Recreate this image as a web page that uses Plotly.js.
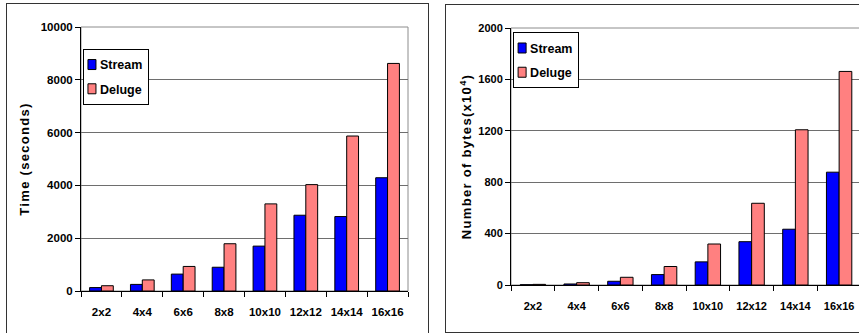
<!DOCTYPE html>
<html>
<head>
<meta charset="utf-8">
<script src="https://cdn.plot.ly/plotly-3.0.1.min.js"></script>
<style>
  html, body { margin:0; padding:0; background:#fff; overflow:hidden; width:859px; height:333px; }
  #c1 { position:absolute; left:0; top:0; width:430px; height:333px; }
  #c2 { position:absolute; left:430px; top:0; width:440px; height:333px; }
  .frame { position:absolute; border:1px solid #333; pointer-events:none; }
  .ytitle { letter-spacing: 1.3px; }
</style>
</head>
<body>
<div id="c1"></div>
<div id="c2"></div>
<div class="frame" style="left:6px; top:3px; width:421px; height:340px;"></div>
<div class="frame" style="left:445px; top:4px; width:430px; height:327px;"></div>
<script>
const categories = ["2x2","4x4","6x6","8x8","10x10","12x12","14x14","16x16"];
const timeStream = [130, 250, 640, 900, 1700, 2870, 2820, 4290];
const timeDeluge = [200, 420, 930, 1790, 3300, 4030, 5870, 8620];
const bytesStream = [2, 8, 29, 81, 180, 337, 434, 878];
const bytesDeluge = [5, 18, 60, 144, 319, 636, 1208, 1662];
const timeTicks = [0, 2000, 4000, 6000, 8000, 10000];
const timeTickLabels = ["0", "2000", "4000", "6000", "8000", "10000"];
const bytesTicks = [0, 400, 800, 1200, 1600, 2000];
const bytesTickLabels = ["0", "400", "800", "1200", "1600", "2000"];

const FONT = "'Liberation Sans', Arial, sans-serif";
const blue = "#0000FF", pink = "#FF8080";

function traces(s, d) {
  return [
    {type:"bar", name:"Stream", x:categories, y:s, legendgroup:"a",
     marker:{color:blue, line:{color:"#000", width:1}}},
    {type:"bar", name:"Deluge", x:categories, y:d, legendgroup:"b",
     marker:{color:pink, line:{color:"#000", width:1}}}
  ];
}

function layout(opts) {
  return {
    width: opts.w, height: 333,
    margin: opts.margin,
    paper_bgcolor: "rgba(0,0,0,0)",
    plot_bgcolor: "#fff",
    barmode: "group",
    bargap: 0.42,
    bargroupgap: 0,
    showlegend: true,
    legend: {
      x: opts.legx, y: opts.legy, xanchor: "left", yanchor: "top",
      bgcolor: "#fff", bordercolor: "#000", borderwidth: 1,
      font: {family: FONT, size: 12.5, color: "#000", weight: "bold"},
      traceorder: "grouped", tracegroupgap: 5,
      itemwidth: 30
    },
    font: {family: FONT, color: "#000"},
    xaxis: {
      type: "category",
      showline: true, linecolor: "#000", linewidth: 1,
      ticks: "outside", ticklen: 5, tickcolor: "#000", tickson: "boundaries",
      tickangle: 0,
      tickfont: {family: FONT, size: opts.fs, color: "#000", weight: "bold"},
      ticklabelstandoff: opts.xstand,
      showgrid: false, zeroline: false, fixedrange: true
    },
    yaxis: {
      range: opts.yrange, tickvals: opts.ticks, ticktext: opts.ticktext,
      showline: true, linecolor: "#000", linewidth: 1,
      ticks: "outside", ticklen: 5, tickcolor: "#000",
      tickfont: {family: FONT, size: opts.fs, color: "#000", weight: "bold"},
      showgrid: true, gridcolor: "#6e6e6e", gridwidth: 1,
      zeroline: false, fixedrange: true,
      title: {text: opts.ytitle, standoff: opts.standoff,
              font: {family: FONT, size: 13, color: "#000", weight: "bold"}}
    },
    shapes: [{type:"rect", xref:"paper", yref:"paper", x0:0, x1:1, y0:0, y1:1,
              line:{color:"#8c8c8c", width:1}, layer:"below"}]
  };
}

// compact the legend like the original (small swatch, text close to it)
function compactLegend(gd) {
  try {
    const leg = gd.querySelector("g.legend");
    if (!leg) return;
    let maxRight = 0;
    leg.querySelectorAll("g.traces").forEach(t => {
      t.querySelectorAll("g.legendpoints path").forEach(p => {
        p.setAttribute("d", "M4,5H-4V-5H4Z");
        p.setAttribute("transform", "translate(8,0)");
      });
      t.querySelectorAll("text.legendtext").forEach(tx => {
        tx.setAttribute("x", 16);
        const w = tx.getComputedTextLength ? tx.getComputedTextLength() : 45;
        maxRight = Math.max(maxRight, 16 + w);
      });
    });
    const bg = leg.querySelector("rect.bg");
    if (bg && maxRight > 0) bg.setAttribute("width", Math.round(maxRight + 7));
  } catch (e) {}
}

const cfg = {displayModeBar:false, staticPlot:true};

Plotly.newPlot("c1", traces(timeStream, timeDeluge), layout({
  w: 430, margin: {l:81, r:22, t:27, b:42},
  legx: 0.006, legy: 0.917, xstand: 10, fs: 11.5,
  yrange: [0, 10000], ticks: timeTicks, ticktext: timeTickLabels,
  ytitle: "Time (seconds)", standoff: 8
}), cfg).then(gd => compactLegend(gd));

Plotly.newPlot("c2", traces(bytesStream, bytesDeluge), layout({
  w: 440, margin: {l:81, r:9, t:28, b:48},
  legx: 0.006, legy: 0.983, xstand: 11, fs: 11,
  yrange: [0, 2000], ticks: bytesTicks, ticktext: bytesTickLabels,
  ytitle: "Number of bytes(x10<sup>4</sup>)", standoff: 3
}), cfg).then(gd => compactLegend(gd));
</script>
</body>
</html>
